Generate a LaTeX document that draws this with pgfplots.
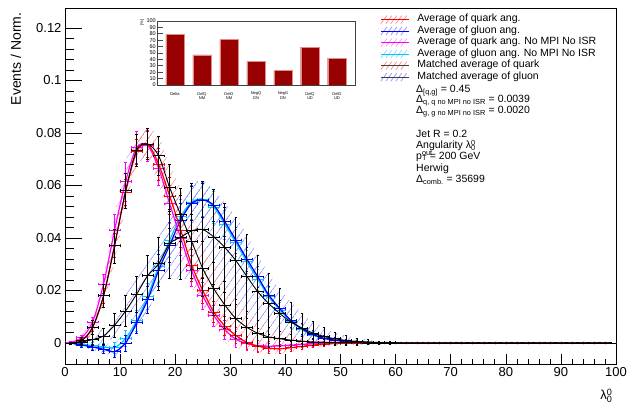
\documentclass[border=0pt]{standalone}
\usepackage{fontspec}
\setmainfont{Liberation Sans}
\usepackage{pgfplots}
\pgfplotsset{compat=1.18}
\usepackage{pgfplotstable}
\usepgfplotslibrary{fillbetween}
\usetikzlibrary{patterns.meta}

\definecolor{qred}{RGB}{255,0,0}
\definecolor{gblue}{RGB}{0,0,255}
\definecolor{qmag}{RGB}{255,0,255}
\definecolor{gcyan}{RGB}{0,200,255}
\definecolor{hred}{RGB}{255,140,140}
\definecolor{hblue}{RGB}{145,145,255}
\definecolor{hmag}{RGB}{255,150,255}
\definecolor{hcyan}{RGB}{130,220,255}
\definecolor{bardark}{RGB}{153,0,0}
\definecolor{baredge}{RGB}{225,140,140}

\newcommand{\declhatch}[2]{%
\tikzdeclarepattern{
  name=#1,
  type=colored,
  bounding box={(0pt,-0.4pt) and (6.5pt,0.4pt)},
  tile size={(6.5pt,6.5pt)},
  tile transformation={rotate=55},
  code={\pgfsetlinewidth{0.6pt}\pgfsetstrokecolor{#2}\pgfpathmoveto{\pgfqpoint{0pt}{0pt}}\pgfpathlineto{\pgfqpoint{6.5pt}{0pt}}\pgfusepath{stroke}}
}}
\declhatch{HatchRed}{hred}
\declhatch{HatchBlue}{hblue}
\declhatch{HatchMag}{hmag}
\declhatch{HatchCyan}{hcyan}

\pgfplotstableread{
x  rq      erq     mq      emq     bg      ebg     cg      ecg     kq      ekq     kg      ekg
1  0.0000  0.0003  0.0002  0.0004  0.0000  0.0003  0.0000  0.0003  0.0000  0.0004  0.0000  0.0004
3  0.0010  0.0008  0.0020  0.0010  -0.0008 0.0008  -0.0005 0.0008  0.0008  0.0012  0.0004  0.0012
5  0.0058  0.0015  0.0080  0.0018  -0.0015 0.0012  -0.0010 0.0012  0.0060  0.0025  0.0013  0.0020
7  0.0180  0.0030  0.0225  0.0035  -0.0024 0.0015  -0.0015 0.0015  0.0180  0.0045  0.0027  0.0030
9  0.0373  0.0045  0.0430  0.0060  -0.0033 0.0020  -0.0018 0.0020  0.0370  0.0065  0.0068  0.0045
11 0.0575  0.0050  0.0615  0.0075  0.0000  0.0030  0.0018  0.0030  0.0580  0.0065  0.0122  0.0060
13 0.0728  0.0048  0.0745  0.0060  0.0077  0.0040  0.0085  0.0040  0.0735  0.0060  0.0186  0.0070
15 0.0757  0.0050  0.0752  0.0060  0.0165  0.0050  0.0178  0.0050  0.0758  0.0060  0.0256  0.0080
17 0.0680  0.0060  0.0665  0.0065  0.0277  0.0060  0.0292  0.0060  0.0713  0.0075  0.0302  0.0100
19 0.0560  0.0070  0.0530  0.0070  0.0373  0.0065  0.0392  0.0065  0.0592  0.0090  0.0378  0.0130
21 0.0430  0.0065  0.0400  0.0065  0.0468  0.0065  0.0482  0.0065  0.0488  0.0100  0.0403  0.0160
23 0.0296  0.0060  0.0275  0.0060  0.0532  0.0065  0.0537  0.0065  0.0386  0.0105  0.0427  0.0180
25 0.0200  0.0050  0.0180  0.0050  0.0545  0.0065  0.0548  0.0065  0.0284  0.0105  0.0432  0.0185
27 0.0118  0.0040  0.0105  0.0040  0.0525  0.0060  0.0518  0.0060  0.0207  0.0100  0.0404  0.0180
29 0.0065  0.0035  0.0050  0.0035  0.0462  0.0055  0.0452  0.0055  0.0145  0.0090  0.0364  0.0170
31 0.0029  0.0030  0.0015  0.0030  0.0392  0.0050  0.0382  0.0050  0.0093  0.0075  0.0314  0.0165
33 0.0002  0.0025  -0.0003 0.0025  0.0320  0.0045  0.0310  0.0045  0.0060  0.0060  0.0254  0.0160
35 -0.0012 0.0022  -0.0010 0.0022  0.0252  0.0040  0.0242  0.0040  0.0037  0.0048  0.0195  0.0140
37 -0.0020 0.0020  -0.0012 0.0020  0.0182  0.0035  0.0176  0.0035  0.0023  0.0038  0.0150  0.0115
39 -0.0022 0.0018  -0.0011 0.0018  0.0131  0.0030  0.0126  0.0030  0.0016  0.0030  0.0112  0.0095
41 -0.0018 0.0015  -0.0008 0.0015  0.0086  0.0025  0.0083  0.0025  0.0011  0.0024  0.0080  0.0075
43 -0.0013 0.0012  -0.0005 0.0012  0.0054  0.0020  0.0051  0.0020  0.0007  0.0018  0.0057  0.0058
45 -0.0008 0.0010  -0.0003 0.0010  0.0032  0.0016  0.0030  0.0016  0.0004  0.0014  0.0038  0.0045
47 -0.0004 0.0008  -0.0001 0.0008  0.0018  0.0012  0.0017  0.0012  0.0003  0.0010  0.0025  0.0034
49 -0.0002 0.0006  0.0000  0.0006  0.0011  0.0010  0.0010  0.0010  0.0002  0.0008  0.0016  0.0025
51 0.0000  0.0005  0.0000  0.0005  0.0006  0.0008  0.0005  0.0008  0.0001  0.0006  0.0010  0.0018
53 0.0000  0.0004  0.0000  0.0004  0.0004  0.0006  0.0003  0.0006  0.0001  0.0005  0.0006  0.0013
55 0.0000  0.0003  0.0000  0.0003  0.0002  0.0005  0.0002  0.0005  0.0000  0.0004  0.0004  0.0009
57 0.0000  0.0003  0.0000  0.0003  0.0001  0.0004  0.0001  0.0004  0.0000  0.0003  0.0002  0.0006
59 0.0000  0.0002  0.0000  0.0002  0.0001  0.0003  0.0000  0.0003  0.0000  0.0002  0.0001  0.0004
61 0 0.0002 0 0.0002 0 0.0002 0 0.0002 0 0.0002 0 0.0002
63 0 0.0002 0 0.0002 0 0.0002 0 0.0002 0 0.0002 0 0.0002
65 0 0.0002 0 0.0002 0 0.0002 0 0.0002 0 0.0002 0 0.0002
67 0 0.0002 0 0.0002 0 0.0002 0 0.0002 0 0.0002 0 0.0002
69 0 0.0002 0 0.0002 0 0.0002 0 0.0002 0 0.0002 0 0.0002
71 0 0.0002 0 0.0002 0 0.0002 0 0.0002 0 0.0002 0 0.0002
73 0 0.0002 0 0.0002 0 0.0002 0 0.0002 0 0.0002 0 0.0002
75 0 0.0002 0 0.0002 0 0.0002 0 0.0002 0 0.0002 0 0.0002
77 0 0.0002 0 0.0002 0 0.0002 0 0.0002 0 0.0002 0 0.0002
79 0 0.0002 0 0.0002 0 0.0002 0 0.0002 0 0.0002 0 0.0002
81 0 0.0002 0 0.0002 0 0.0002 0 0.0002 0 0.0002 0 0.0002
83 0 0.0002 0 0.0002 0 0.0002 0 0.0002 0 0.0002 0 0.0002
85 0 0.0002 0 0.0002 0 0.0002 0 0.0002 0 0.0002 0 0.0002
87 0 0.0002 0 0.0002 0 0.0002 0 0.0002 0 0.0002 0 0.0002
89 0 0.0002 0 0.0002 0 0.0002 0 0.0002 0 0.0002 0 0.0002
91 0 0.0002 0 0.0002 0 0.0002 0 0.0002 0 0.0002 0 0.0002
93 0 0.0002 0 0.0002 0 0.0002 0 0.0002 0 0.0002 0 0.0002
95 0 0.0002 0 0.0002 0 0.0002 0 0.0002 0 0.0002 0 0.0002
97 0 0.0002 0 0.0002 0 0.0002 0 0.0002 0 0.0002 0 0.0002
99 0 0.0002 0 0.0002 0 0.0002 0 0.0002 0 0.0002 0 0.0002
}\data

\pgfplotsset{
  errstyle/.style={error bars/.cd, x dir=both, x fixed=1, y dir=both, y explicit,
     error bar style={line width=0.8pt}, error mark options={rotate=90, mark size=1.3pt, line width=0.5pt}},
}
\newcommand{\legimg}[2]{\addlegendimage{legend image code/.code={%
  \foreach \i in {0,5,10,15,20} {\draw[#1,line width=0.7pt] (\i pt,-4pt) -- ++(6pt,8pt);}
  \draw[#2,line width=1.2pt] (0pt,0pt) -- (28pt,0pt);}}}

\begin{document}
\begin{tikzpicture}
\begin{axis}[
  at={(65pt,43pt)}, anchor=south west,
  scale only axis, width=551pt, height=356pt,
  xmin=0, xmax=100, ymin=-0.008, ymax=0.1276,
  xtick={0,10,...,100}, minor x tick num=4,
  ytick={0,0.02,0.04,0.06,0.08,0.1,0.12},
  yticklabels={0,0.02,0.04,0.06,0.08,0.1,0.12},
  minor y tick num=4,
  tick pos=left, tick align=inside,
  major tick length=12pt, minor tick length=6pt,
  every major x tick/.append style={/pgfplots/major tick length=10pt},
  every minor x tick/.append style={/pgfplots/minor tick length=5pt},
  every major y tick/.append style={/pgfplots/major tick length=17pt},
  every minor y tick/.append style={/pgfplots/minor tick length=9pt},
  tick style={black, line width=0.6pt},
  axis line style={line width=0.8pt},
  /pgf/number format/assume math mode=true,
  ticklabel style={font=\fontsize{13}{15}\selectfont},
  ylabel={Events / Norm.},
  ylabel style={at={(axis description cs:-0.0799,0.997)}, anchor=base east, font=\fontsize{14}{16}\selectfont},
  xlabel={λ\rlap{\textsuperscript{0}}\textsubscript{0}},
  xlabel style={at={(axis description cs:1,-0.1011)}, anchor=base east, font=\fontsize{13}{15}\selectfont},
  legend cell align=left,
  legend style={at={(axis description cs:0.5717,0.984)}, anchor=north west, draw=none, fill=none,
     font=\fontsize{10.5}{12}\selectfont, inner sep=0pt, row sep=0pt, column sep=8pt,
     nodes={inner sep=0pt, text height=8pt, text depth=3.5pt}},
]
% bands
\addplot[draw=none, smooth, name path=kqU, forget plot] table[x=x, y expr=\thisrow{kq}+\thisrow{ekq}] {\data};
\addplot[draw=none, smooth, name path=kqL, forget plot] table[x=x, y expr=\thisrow{kq}-\thisrow{ekq}] {\data};
\addplot[draw=none, smooth, name path=kgU, forget plot] table[x=x, y expr=\thisrow{kg}+\thisrow{ekg}] {\data};
\addplot[draw=none, smooth, name path=kgL, forget plot] table[x=x, y expr=\thisrow{kg}-\thisrow{ekg}] {\data};
\addplot[draw=none, smooth, name path=rqU, forget plot] table[x=x, y expr=\thisrow{rq}+\thisrow{erq}] {\data};
\addplot[draw=none, smooth, name path=rqL, forget plot] table[x=x, y expr=\thisrow{rq}-\thisrow{erq}] {\data};
\addplot[draw=none, smooth, name path=bgU, forget plot] table[x=x, y expr=\thisrow{bg}+\thisrow{ebg}] {\data};
\addplot[draw=none, smooth, name path=bgL, forget plot] table[x=x, y expr=\thisrow{bg}-\thisrow{ebg}] {\data};
\addplot[draw=none, smooth, name path=mqU, forget plot] table[x=x, y expr=\thisrow{mq}+\thisrow{emq}] {\data};
\addplot[draw=none, smooth, name path=mqL, forget plot] table[x=x, y expr=\thisrow{mq}-\thisrow{emq}] {\data};
\addplot[draw=none, smooth, name path=cgU, forget plot] table[x=x, y expr=\thisrow{cg}+\thisrow{ecg}] {\data};
\addplot[draw=none, smooth, name path=cgL, forget plot] table[x=x, y expr=\thisrow{cg}-\thisrow{ecg}] {\data};
\addplot[pattern=HatchBlue, draw=none, forget plot] fill between[of=kgU and kgL];
\addplot[pattern=HatchRed, draw=none, forget plot] fill between[of=kqU and kqL];
\addplot[pattern=HatchCyan, draw=none, forget plot] fill between[of=cgU and cgL];
\addplot[pattern=HatchBlue, draw=none, forget plot] fill between[of=bgU and bgL];
\addplot[pattern=HatchMag, draw=none, forget plot] fill between[of=mqU and mqL];
\addplot[pattern=HatchRed, draw=none, forget plot] fill between[of=rqU and rqL];
% curves
\addplot[gcyan, line width=1.2pt, smooth, forget plot, errstyle] table[x=x, y=cg, y error=ecg] {\data};
\addplot[gblue, line width=1.2pt, smooth, forget plot, errstyle] table[x=x, y=bg, y error=ebg] {\data};
\addplot[qmag, line width=1.2pt, smooth, forget plot, errstyle] table[x=x, y=mq, y error=emq] {\data};
\addplot[qred, line width=1.2pt, smooth, forget plot, errstyle] table[x=x, y=rq, y error=erq] {\data};
\addplot[black, line width=0.9pt, smooth, forget plot, errstyle] table[x=x, y=kq, y error=ekq] {\data};
\addplot[black, line width=0.9pt, smooth, forget plot, errstyle] table[x=x, y=kg, y error=ekg] {\data};
% legend
\legimg{hred}{qred}
\addlegendentry{Average of quark ang.}
\legimg{hblue}{gblue}
\addlegendentry{Average of gluon ang.}
\legimg{hmag}{qmag}
\addlegendentry{Average of quark ang. No MPI No ISR}
\legimg{hcyan}{gcyan}
\addlegendentry{Average of gluon ang. No MPI No ISR}
\legimg{hred}{black!75}
\addlegendentry{Matched average of quark}
\legimg{hblue}{black!75}
\addlegendentry{Matched average of gluon}
\end{axis}

% text block
\begin{scope}[every node/.style={anchor=base west, inner sep=0pt, font=\fontsize{10.5}{12}\selectfont}]
\node at (416pt,314.3pt) {Δ\textsubscript{[q,g]} = 0.45};
\node at (416pt,304.3pt) {Δ\textsubscript{q, q no MPI no ISR} = 0.0039};
\node at (416pt,293.0pt) {Δ\textsubscript{g, g no MPI no ISR} = 0.0020};
\node at (416pt,269.7pt) {Jet R = 0.2};
\node at (416pt,258.0pt) {Angularity λ\rlap{\textsuperscript{0}}\textsubscript{0}};
\node at (416pt,247.7pt) {p\rlap{\textsuperscript{out}}\textsubscript{T} = 200 GeV};
\node at (416pt,235.3pt) {Herwig};
\node at (416pt,224.3pt) {Δ\textsubscript{comb.} = 35699};
\end{scope}

% inset
\begin{axis}[
  at={(157pt,322pt)}, anchor=south west,
  scale only axis, width=198pt, height=64pt,
  xmin=-0.667, xmax=6.667, ymin=0, ymax=100,
  ybar, bar width=0.685,
  xtick={0,1,2,3,4,5,6},
  xticklabels={Delta,{DelQ\\NM},{DelG\\NM},{NegQ\\DN},{NegG\\DN},{DelQ\\UD},{DelG\\UD}},
  xticklabel style={align=center, font=\fontsize{4}{4.7}\selectfont, inner sep=1pt},
  ytick={0,10,...,100},
  yticklabel style={font=\fontsize{5.5}{6}\selectfont, inner sep=1pt},
  /pgf/number format/assume math mode=true,
  tick pos=left, major tick length=6pt,
  xtick style={draw=none},
  tick style={black!70, line width=0.6pt},
  axis line style={line width=0.9pt, black!75},
  ylabel={[\%]},
  ylabel style={at={(axis description cs:-0.07,1.08)}, anchor=base east, font=\fontsize{4}{5}\selectfont},
]
\addplot[fill=bardark, draw=baredge, line width=0.4pt] coordinates {(0,79) (1,47) (2,71) (3,36.5) (4,23) (5,59) (6,42)};
\end{axis}
\pgfresetboundingbox
\path[use as bounding box] (0,0) rectangle (627pt,407pt);
\end{tikzpicture}
\end{document}
